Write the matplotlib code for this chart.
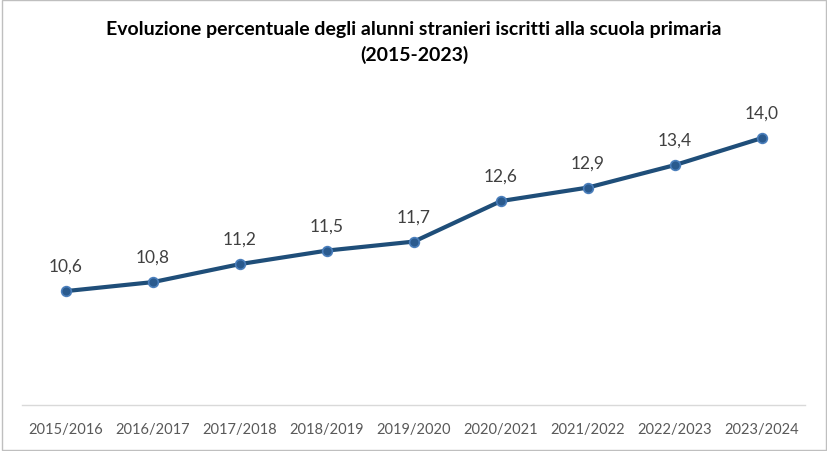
import numpy as np
import matplotlib.pyplot as plt
from matplotlib.patches import Rectangle

# Data
years = ['2015/2016', '2016/2017', '2017/2018', '2018/2019', '2019/2020',
         '2020/2021', '2021/2022', '2022/2023', '2023/2024']
values = [10.6, 10.8, 11.2, 11.5, 11.7, 12.6, 12.9, 13.4, 14.0]

plt.rcParams['font.family'] = ['Lato', 'DejaVu Sans']

fig = plt.figure(figsize=(8.28, 4.52), dpi=100)
ax = fig.add_axes([22.5 / 828, 46 / 452, 783 / 828, 312 / 452])

x = np.arange(len(years))
ax.plot(x, values, color='#1F4E79', linewidth=3, marker='o', markersize=7,
        markerfacecolor='#2A5A8E', markeredgecolor='#4A7EBB', markeredgewidth=1.2,
        solid_capstyle='round', zorder=3)

for xi, v in zip(x, values):
    ax.annotate(f'{v:.1f}'.replace('.', ','), (xi, v), xytext=(0, 18),
                textcoords='offset points', ha='center', va='center',
                fontsize=12.5, color='#404040')

ax.set_xlim(-0.5, len(years) - 0.5)
ax.set_ylim(8.07, 15.0)
ax.set_xticks(x)
ax.set_xticklabels(years, fontsize=10.5, color='#595959')
ax.tick_params(axis='x', length=0, pad=12)
ax.set_yticks([])
for s in ['top', 'left', 'right']:
    ax.spines[s].set_visible(False)
ax.spines['bottom'].set_color('#D9D9D9')
ax.spines['bottom'].set_linewidth(1)

fig.text(0.5, 1 - 30 / 452, 'Evoluzione percentuale degli alunni stranieri iscritti alla scuola primaria',
         ha='center', va='center', fontsize=14, fontweight='bold', color='black')
fig.text(0.5, 1 - 55 / 452, '(2015-2023)',
         ha='center', va='center', fontsize=14, fontweight='bold', color='black')

fig.patches.append(Rectangle((0.002, 0.003), 0.996, 0.994, transform=fig.transFigure,
                             fill=False, edgecolor='#BFBFBF', linewidth=1))

fig.savefig('out.png', dpi=100)
